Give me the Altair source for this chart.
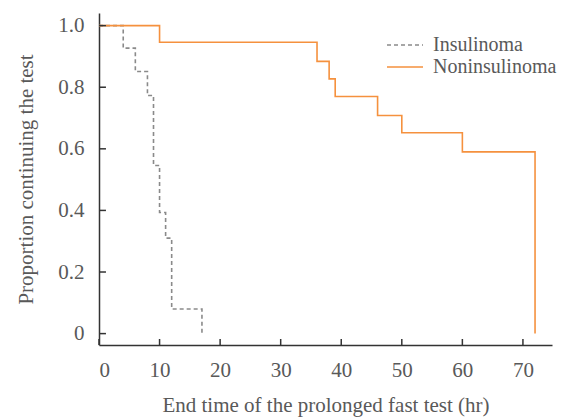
import altair as alt
import pandas as pd

# Insulinoma (dashed gray)
ins_time = [0, 4, 6, 8, 9, 10, 11, 12, 17]
ins_prop = [1.0, 0.927, 0.851, 0.773, 0.546, 0.393, 0.310, 0.080, 0.0]
# Noninsulinoma (orange)
non_time = [0, 10, 36, 38, 39, 46, 50, 60, 72]
non_prop = [1.0, 0.946, 0.884, 0.827, 0.770, 0.708, 0.652, 0.590, 0.0]

x_ticks = [0, 10, 20, 30, 40, 50, 60, 70]
y_ticks = [0, 0.2, 0.4, 0.6, 0.8, 1.0]

X_DOM = [0, 74.8]
Y_DOM = [-0.037, 1.041]

rows = []
for t, p in zip(ins_time, ins_prop):
    rows.append({"time": t, "prop": p, "group": "Insulinoma"})
for t, p in zip(non_time, non_prop):
    rows.append({"time": t, "prop": p, "group": "Noninsulinoma"})
df = pd.DataFrame(rows)

FONT = "Liberation Serif"
TXT = "#595959"
AX = "#333333"

xs = alt.Scale(domain=X_DOM, nice=False, zero=False)
ys = alt.Scale(domain=Y_DOM, nice=False, zero=False)

lines = alt.Chart(df).mark_line(interpolate="step-after", strokeWidth=1.6).encode(
    x=alt.X("time:Q", scale=xs,
            axis=alt.Axis(values=x_ticks, title="End time of the prolonged fast  test (hr)",
                          ticks=False, tickSize=0, labelPadding=14, titlePadding=14,
                          grid=False, domainColor=AX, domainWidth=1.5,
                          labelFont=FONT, labelFontSize=21, labelColor=TXT,
                          titleFont=FONT, titleFontSize=21, titleColor=TXT,
                          titleFontWeight="normal")),
    y=alt.Y("prop:Q", scale=ys,
            axis=alt.Axis(values=y_ticks, title="Proportion continuing the test",
                          labelExpr="datum.value == 0 ? '0' : format(datum.value, '.1f')",
                          ticks=False, tickSize=0, labelPadding=15, titlePadding=21,
                          grid=False, domainColor=AX, domainWidth=1.5,
                          labelFont=FONT, labelFontSize=21, labelColor=TXT,
                          titleFont=FONT, titleFontSize=21, titleColor=TXT,
                          titleFontWeight="normal")),
    color=alt.Color("group:N",
                    scale=alt.Scale(domain=["Insulinoma", "Noninsulinoma"],
                                    range=["#8a8a8a", "#f5913e"]),
                    legend=alt.Legend(title=None, orient="none", legendX=287, legendY=21,
                                      symbolType="stroke", symbolSize=1296,
                                      symbolStrokeWidth=1.6, labelOffset=9,
                                      clipHeight=22, rowPadding=0,
                                      labelFont=FONT, labelFontSize=20, labelColor=TXT)),
    strokeDash=alt.StrokeDash("group:N",
                              scale=alt.Scale(domain=["Insulinoma", "Noninsulinoma"],
                                              range=[[4, 3], [1, 0]]),
                              legend=None),
)

xt = pd.DataFrame({"v": x_ticks, "y0": Y_DOM[0], "y1": Y_DOM[0] + 0.0195})
yt = pd.DataFrame({"v": y_ticks, "x0": X_DOM[0], "x1": X_DOM[0] + 1.15})

xtick = alt.Chart(xt).mark_rule(color=AX, strokeWidth=1.5).encode(
    x=alt.X("v:Q", scale=xs), y=alt.Y("y0:Q", scale=ys), y2="y1:Q")
ytick = alt.Chart(yt).mark_rule(color=AX, strokeWidth=1.5).encode(
    y=alt.Y("v:Q", scale=ys), x=alt.X("x0:Q", scale=xs), x2="x1:Q")

chart = alt.layer(lines, xtick, ytick).properties(
    width=453, height=332,
    autosize=alt.AutoSizeParams(type="none"),
    padding={"left": 91, "top": 5, "right": 6, "bottom": 74},
    background="white",
).configure_view(stroke=None)

chart.save("out.html", embed_options={"renderer": "svg", "actions": False})
